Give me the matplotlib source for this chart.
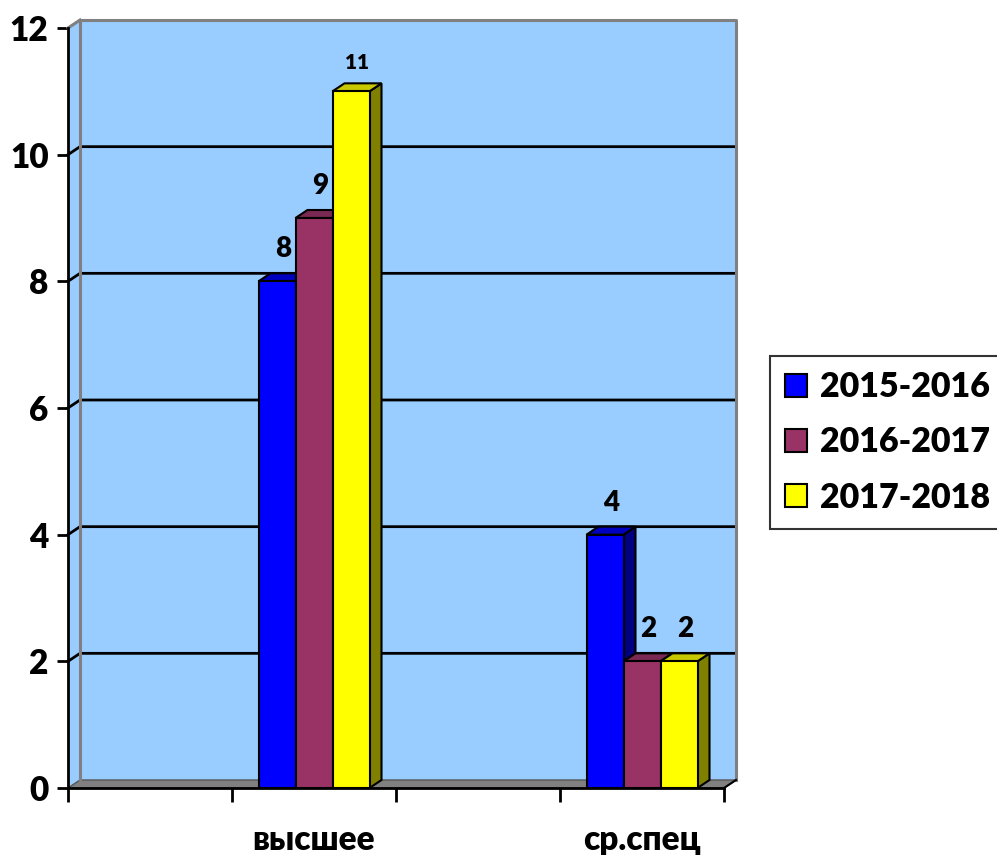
import numpy as np
import matplotlib
matplotlib.use('Agg')
import matplotlib.pyplot as plt
import matplotlib.patches as mpatches
from matplotlib.patches import Polygon

FONT = ['Lato', 'Open Sans', 'DejaVu Sans']
WEIGHT = 'heavy'
plt.rcParams['font.family'] = FONT
plt.rcParams['font.weight'] = WEIGHT

categories = ['', 'высшее', '', 'ср.спец']
series = ['2015-2016', '2016-2017', '2017-2018']
v_2015 = [np.nan, 8, np.nan, 4]
v_2016 = [np.nan, 9, np.nan, 2]
v_2017 = [np.nan, 11, np.nan, 2]
values = [v_2015, v_2016, v_2017]

front = ['#0000FF', '#993366', '#FFFF00']
top_c = ['#0000C0', '#7A2952', '#C8C800']
side_c = ['#000080', '#66223F', '#808000']
WALL = '#99CCFF'
FLOOR = '#808080'
EDGE = '#808080'

W, H = 997, 855
fig = plt.figure(figsize=(W / 100, H / 100), dpi=100)
ax_l, ax_r, ax_b, ax_t = 68, 724, 788, 28
ax = fig.add_axes([ax_l / W, (H - ax_b) / H, (ax_r - ax_l) / W, (ax_b - ax_t) / H])
x0, x1 = -0.5, len(categories) - 0.5
ymax = 12
ax.set_xlim(x0, x1)
ax.set_ylim(0, ymax)

# depth offset of the 3d look, in pixels -> data units
dpx, dpy = 12, 8
ddx = dpx * (x1 - x0) / (ax_r - ax_l)
ddy = dpy * ymax / (ax_b - ax_t)

# walls and floor
ax.add_patch(Polygon([(x0 + ddx, ddy), (x1 + ddx, ddy), (x1 + ddx, ymax + ddy), (x0 + ddx, ymax + ddy)],
                     closed=True, facecolor=WALL, edgecolor='none', clip_on=False, zorder=1))
ax.add_patch(Polygon([(x0, 0), (x0 + ddx, ddy), (x0 + ddx, ymax + ddy), (x0, ymax)],
                     closed=True, facecolor=WALL, edgecolor='none', clip_on=False, zorder=1))
ax.add_patch(Polygon([(x0, 0), (x1, 0), (x1 + ddx, ddy), (x0 + ddx, ddy)],
                     closed=True, facecolor=FLOOR, edgecolor='#555555', linewidth=1, clip_on=False, zorder=2))
for yv in range(2, ymax, 2):
    ax.plot([x0, x0 + ddx, x1 + ddx], [yv, yv + ddy, yv + ddy], color='black', lw=2, clip_on=False, zorder=2)
ax.plot([x0 + ddx, x0 + ddx, x1 + ddx, x1 + ddx], [ddy, ymax + ddy, ymax + ddy, ddy],
        color=EDGE, lw=2.2, clip_on=False, zorder=2)
ax.plot([x0, x0 + ddx], [ymax, ymax + ddy], color=EDGE, lw=2.2, clip_on=False, zorder=2)
ax.plot([x1, x1 + ddx], [0, ddy], color='black', lw=1.5, clip_on=False, zorder=2)

# bars
bw = 37 * (x1 - x0) / (ax_r - ax_l)
for i in range(len(categories)):
    for j in range(len(series)):
        v = values[j][i]
        if np.isnan(v):
            continue
        l = i - 1.5 * bw + j * bw
        r = l + bw
        z = 3 + i * 3 + j
        ax.add_patch(Polygon([(r, 0), (r + ddx, ddy), (r + ddx, v + ddy), (r, v)], closed=True,
                             facecolor=side_c[j], edgecolor='black', lw=1.5, clip_on=False, zorder=z))
        ax.add_patch(Polygon([(l, v), (r, v), (r + ddx, v + ddy), (l + ddx, v + ddy)], closed=True,
                             facecolor=top_c[j], edgecolor='black', lw=1.5, clip_on=False, zorder=z))
        ax.add_patch(Polygon([(l, 0), (r, 0), (r, v), (l, v)], closed=True,
                             facecolor=front[j], edgecolor='black', lw=1.5, clip_on=False, zorder=z))
        fs = 15 if v >= 10 else 20
        ax.annotate(f'{v:g}', (l + bw / 2 + ddx / 2, v + ddy), xytext=(0, 8), textcoords='offset points',
                    ha='center', va='bottom', fontsize=fs, fontweight=WEIGHT, zorder=20,
                    annotation_clip=False)

# axes
for s in ['top', 'right']:
    ax.spines[s].set_visible(False)
for s in ['left', 'bottom']:
    ax.spines[s].set_color('black')
    ax.spines[s].set_linewidth(2)
    ax.spines[s].set_zorder(15)
ax.set_yticks(range(0, ymax + 1, 2))
ax.tick_params(axis='y', direction='out', length=8, width=2, labelsize=24, pad=6)
ax.set_xticks(np.arange(x0, x1 + 0.01, 1.0))
ax.set_xticklabels([])
ax.tick_params(axis='x', which='major', direction='out', length=10, width=2)
ax.set_xticks(range(len(categories)), minor=True)
ax.set_xticklabels(categories, minor=True, fontsize=24, fontweight=WEIGHT)
ax.tick_params(axis='x', which='minor', length=0, pad=26)
for t in ax.get_yticklabels():
    t.set_fontweight(WEIGHT)
ax.set_facecolor('none')

handles = [mpatches.Patch(facecolor=front[k], edgecolor='black', linewidth=1.5, label=series[k])
           for k in range(len(series))]
leg = fig.legend(handles=handles, loc='upper left', bbox_to_anchor=(770 / W, 1 - 356 / H),
                 fontsize=24.5, frameon=True, fancybox=False, shadow=False,
                 handlelength=0.64, handleheight=0.64, handletextpad=0.38, borderpad=0.45,
                 labelspacing=0.68, borderaxespad=0)
leg.get_frame().set_edgecolor('black')
leg.get_frame().set_linewidth(1.5)
for t in leg.get_texts():
    t.set_fontweight(WEIGHT)

fig.savefig('out.png', dpi=100)
